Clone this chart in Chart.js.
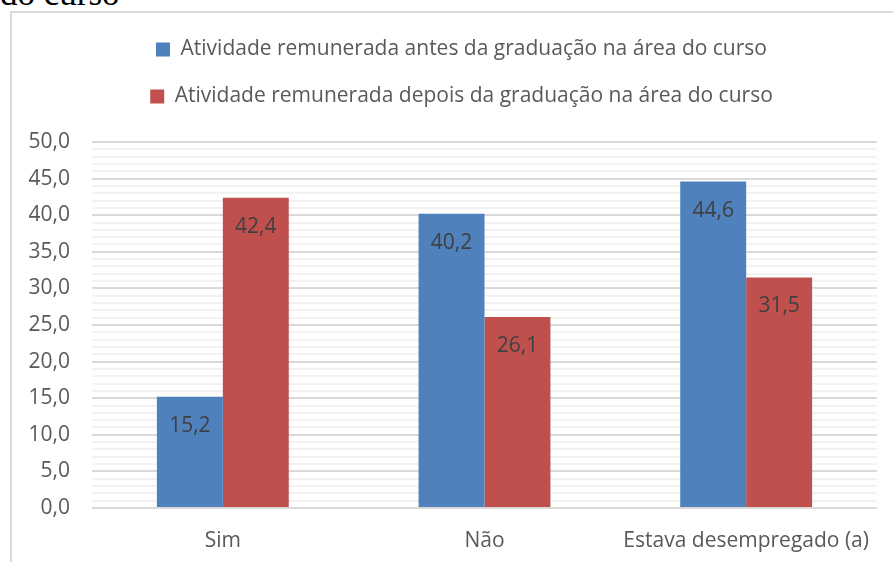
<!DOCTYPE html>
<html lang="pt">
<head>
<meta charset="utf-8">
<script src="https://cdn.jsdelivr.net/npm/chart.js@4.4.0/dist/chart.umd.min.js"></script>
<style>
    body { margin: 0; background: #fff; overflow: hidden; }
    #caption {
        position: absolute; left: 0; top: -24px;
        font-family: "Liberation Serif", serif; font-size: 35px; line-height: 1; color: #000;
    }
    #frame {
        position: absolute; left: 10px; top: 11px; width: 900px; height: 600px;
        border: 2px solid #d9d9d9;
    }
    #wrap { position: absolute; left: 0; top: 0; width: 893px; height: 562px; }
</style>
</head>
<body>
<div id="caption">do curso</div>
<div id="frame"></div>
<div id="wrap"><canvas id="myChart"></canvas></div>

<script>
    // chart data
    var categories = ['Sim', 'Não', 'Estava desempregado (a)'];
    var seriesNames = [
        'Atividade remunerada antes da graduação na área do curso',
        'Atividade remunerada depois da graduação na área do curso'
    ];
    var antes = [15.2, 40.2, 44.6];
    var depois = [42.4, 26.1, 31.5];
    var colors = ['#4F81BD', '#C0504D'];

    var fontFamily = '"Open Sans", sans-serif';
    var fontSize = 21;

    function fmt(v) {
        return Number(v).toFixed(1).replace('.', ',');
    }

    // value labels inside the top of each bar
    var barLabels = {
        id: 'barLabels',
        afterDatasetsDraw: function (chart) {
            var ctx = chart.ctx;
            ctx.save();
            ctx.font = fontSize + 'px ' + fontFamily;
            ctx.fillStyle = '#404040';
            ctx.textAlign = 'center';
            ctx.textBaseline = 'middle';
            chart.data.datasets.forEach(function (ds, i) {
                chart.getDatasetMeta(i).data.forEach(function (bar, j) {
                    ctx.fillText(fmt(ds.data[j]), bar.x, bar.y + 29);
                });
            });
            ctx.restore();
        }
    };

    // extra room under the legend, and legend nudged right
    var legendTweak = {
        id: 'legendTweak',
        beforeInit: function (chart) {
            var fit = chart.legend.fit;
            chart.legend.fit = function () {
                fit.bind(chart.legend)();
                this.height += 25;
            };
        },
        afterLayout: function (chart) {
            chart.legend.left = 46;
        }
    };

    var ctx = document.getElementById('myChart').getContext('2d');
    var myChart = new Chart(ctx, {
        type: 'bar',
        data: {
            labels: categories,
            datasets: [
                { label: seriesNames[0], data: antes, backgroundColor: colors[0] },
                { label: seriesNames[1], data: depois, backgroundColor: colors[1] }
            ]
        },
        plugins: [barLabels, legendTweak],
        options: {
            responsive: true,
            maintainAspectRatio: false,
            animation: false,
            layout: { padding: { left: 0, right: 16, top: 13, bottom: 0 } },
            datasets: {
                bar: { categoryPercentage: 0.504, barPercentage: 1.0 }
            },
            plugins: {
                tooltip: { enabled: false },
                legend: {
                    position: 'top',
                    labels: {
                        boxWidth: 14,
                        boxHeight: 14,
                        padding: 26,
                        color: '#595959',
                        font: { family: fontFamily, size: fontSize }
                    }
                }
            },
            scales: {
                x: {
                    afterFit: function (scale) { scale.height = 54; },
                    grid: { display: false, drawTicks: false },
                    border: { display: false },
                    ticks: {
                        color: '#595959',
                        padding: 20,
                        font: { family: fontFamily, size: fontSize }
                    }
                },
                y: {
                    min: 0,
                    max: 50,
                    afterFit: function (scale) { scale.width = 92; },
                    border: { display: false },
                    grid: {
                        drawTicks: false,
                        lineWidth: 2,
                        color: function (c) { return c.tick && c.tick.value % 5 === 0 ? '#d9d9d9' : '#f2f2f2'; }
                    },
                    ticks: {
                        stepSize: 1,
                        autoSkip: false,
                        padding: 22,
                        color: '#595959',
                        font: { family: fontFamily, size: fontSize },
                        callback: function (v) { return v % 5 === 0 ? fmt(v) : ''; }
                    }
                }
            }
        }
    });
</script>
</body>
</html>
